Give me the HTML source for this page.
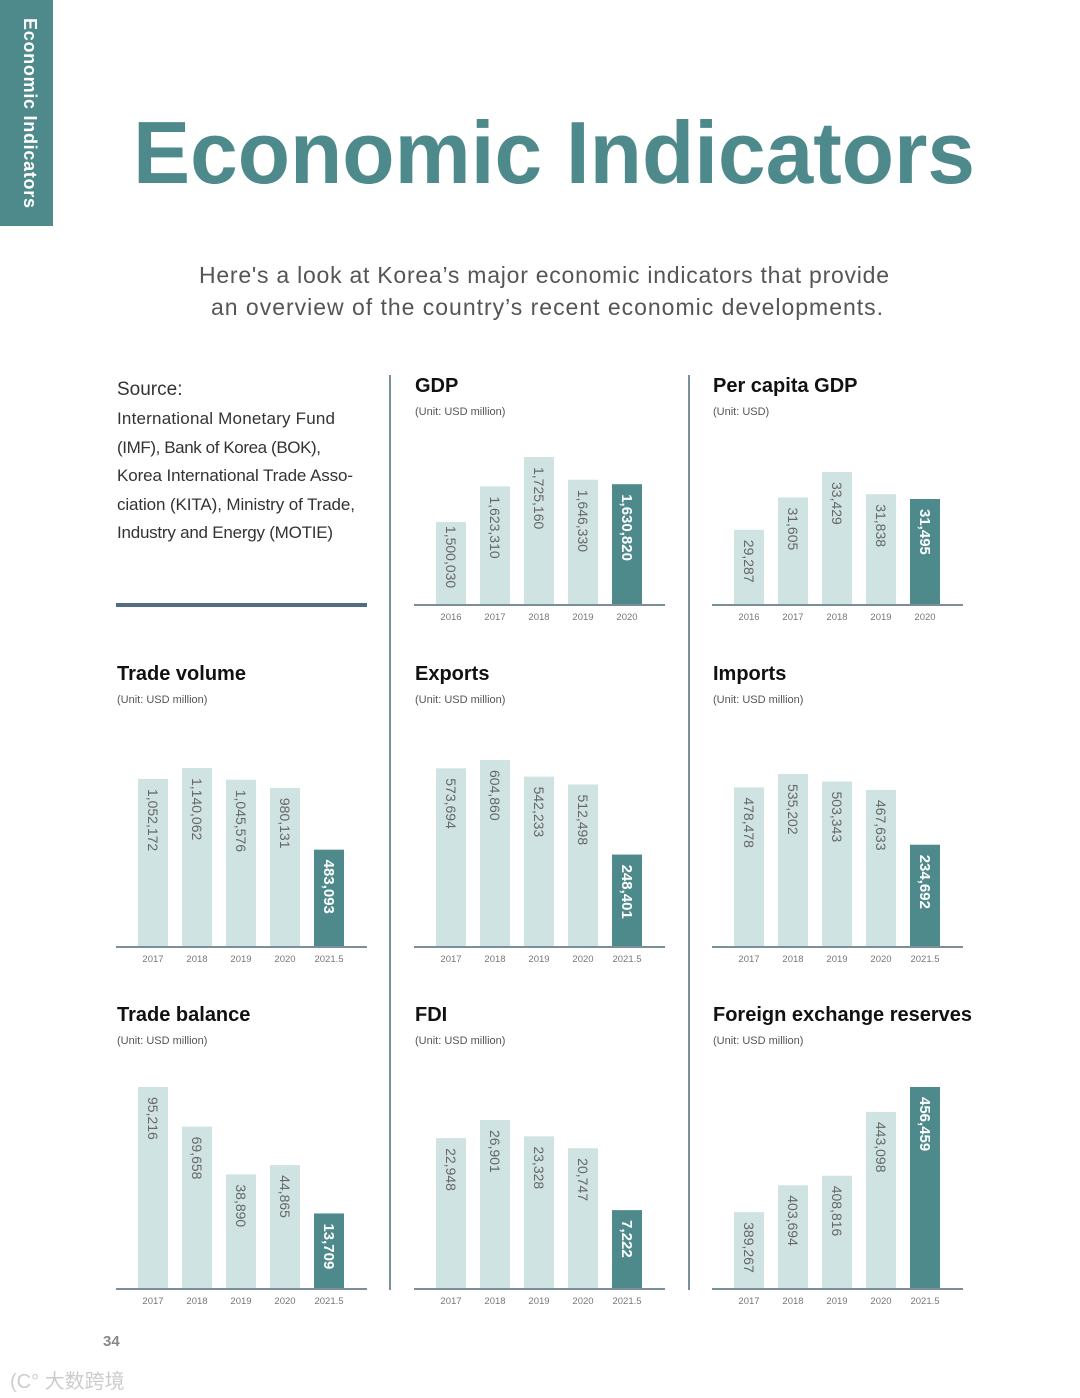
<!DOCTYPE html>
<html><head><meta charset="utf-8"><style>
html,body{margin:0;padding:0;background:#fff;}
svg{display:block;font-family:"Liberation Sans",sans-serif;}
</style></head><body>
<svg id="page" width="1080" height="1398" viewBox="0 0 1080 1398">
<rect x="0" y="0" width="53" height="226" fill="#4e8a8c"/>
<text transform="translate(24,18) rotate(90)" font-size="18" font-weight="bold" fill="#fff" textLength="190">Economic Indicators</text>
<text x="133" y="183" font-size="88" font-weight="bold" fill="#4e8a8c" textLength="842" lengthAdjust="spacingAndGlyphs">Economic Indicators</text>
<text x="544" y="283" font-size="23" fill="#555" text-anchor="middle" textLength="690">Here's a look at Korea’s major economic indicators that provide</text>
<text x="547" y="315" font-size="23" fill="#555" text-anchor="middle" textLength="672">an overview of the country’s recent economic developments.</text>
<g fill="#333">
<text x="117" y="395" font-size="19">Source:</text>
<text x="117" y="424" font-size="17" textLength="218">International Monetary Fund</text>
<text x="117" y="453" font-size="17" textLength="204">(IMF), Bank of Korea (BOK),</text>
<text x="117" y="481" font-size="17" textLength="236">Korea International Trade Asso-</text>
<text x="117" y="510" font-size="17" textLength="238">ciation (KITA), Ministry of Trade,</text>
<text x="117" y="538" font-size="17" textLength="216">Industry and Energy (MOTIE)</text>
</g>
<rect x="116" y="603" width="251" height="4" fill="#4f6c85"/>
<rect x="389" y="375" width="2" height="915" fill="#7a8f9a"/>
<rect x="688" y="375" width="2" height="915" fill="#7a8f9a"/>
<text x="103" y="1346" font-size="15" font-weight="bold" fill="#888">34</text>
<text x="10" y="1388" font-size="20" fill="#ccc">(C° 大数跨境</text>
<g id="charts"></g>
</svg>
<script>
const gdpYears=["2016","2017","2018","2019","2020"];
const gdpValues=[1500030,1623310,1725160,1646330,1630820];
const gdpLabels=["1,500,030","1,623,310","1,725,160","1,646,330","1,630,820"];
const pcYears=["2016","2017","2018","2019","2020"];
const pcValues=[29287,31605,33429,31838,31495];
const pcLabels=["29,287","31,605","33,429","31,838","31,495"];
const tradeYears=["2017","2018","2019","2020","2021.5"];
const tvValues=[1052172,1140062,1045576,980131,483093];
const tvLabels=["1,052,172","1,140,062","1,045,576","980,131","483,093"];
const exValues=[573694,604860,542233,512498,248401];
const exLabels=["573,694","604,860","542,233","512,498","248,401"];
const imValues=[478478,535202,503343,467633,234692];
const imLabels=["478,478","535,202","503,343","467,633","234,692"];
const tbValues=[95216,69658,38890,44865,13709];
const tbLabels=["95,216","69,658","38,890","44,865","13,709"];
const fdiValues=[22948,26901,23328,20747,7222];
const fdiLabels=["22,948","26,901","23,328","20,747","7,222"];
const fxValues=[389267,403694,408816,443098,456459];
const fxLabels=["389,267","403,694","408,816","443,098","456,459"];

const NS="http://www.w3.org/2000/svg";
const root=document.getElementById('charts');
function mk(tag,attrs,parent){const e=document.createElementNS(NS,tag);for(const k in attrs)e.setAttribute(k,attrs[k]);parent.appendChild(e);return e;}

function chart(key,title,unit,x0,titleY,base,years,values,labels,lo,H){
  const g=mk('g',{},root);
  
  
  const t=mk('text',{x:x0+1,y:titleY,'font-size':20,'font-weight':'bold',fill:'#111'},g);
  t.textContent=title;
  
  
  const u=mk('text',{x:x0+1,y:titleY+23,'font-size':11,fill:'#555'},g);
  u.textContent=unit;
  
  
  const hi=Math.max(...values);
  const yScale=v=>base-(v-lo)/(hi-lo)*H;
  const xScale=i=>x0+22+i*44;
  values.forEach((v,i)=>{
    const y=yScale(v), last=i===values.length-1;
    const r=mk('rect',{x:xScale(i),y:y,width:30,height:base-y,fill:last?'#4e8a8c':'#cfe3e2'},g);
    
    
    const len=labels[i].length*8.2;
    let ty=y+10;
    if(ty+len>base-6) ty=Math.max(y+4,base-6-len);
    const lb=mk('text',{transform:`translate(${xScale(i)+10},${ty}) rotate(90)`,'font-size':last?15:14,'font-weight':last?'bold':'normal',fill:last?'#fff':'#666'},g);
    lb.textContent=labels[i];
    
    
    const yl=mk('text',{x:xScale(i)+15,y:base+15,'font-size':9.5,fill:'#777','text-anchor':'middle'},g);
    yl.textContent=years[i];
    
    
  });
  const ax=mk('rect',{x:x0,y:base-1,width:251,height:2,fill:'#7a8f9a'},g);
  
  
}
chart('gdp','GDP','(Unit: USD million)',414,392,605,gdpYears,gdpValues,gdpLabels,1212000,148);
chart('per-capita-gdp','Per capita GDP','(Unit: USD)',712,392,605,pcYears,pcValues,pcLabels,23900,133);
chart('trade-volume','Trade volume','(Unit: USD million)',116,680,947,tradeYears,tvValues,tvLabels,-300000,179);
chart('exports','Exports','(Unit: USD million)',414,680,947,tradeYears,exValues,exLabels,-100000,187);
chart('imports','Imports','(Unit: USD million)',712,680,947,tradeYears,imValues,imLabels,-200000,173);
chart('trade-balance','Trade balance','(Unit: USD million)',116,1021,1289,tradeYears,tbValues,tbLabels,-35000,202);
chart('fdi','FDI','(Unit: USD million)',414,1021,1289,tradeYears,fdiValues,fdiLabels,-10000,169);
chart('fx-reserves','Foreign exchange reserves','(Unit: USD million)',712,1021,1289,tradeYears,fxValues,fxLabels,348000,202);
</script>
</body></html>
